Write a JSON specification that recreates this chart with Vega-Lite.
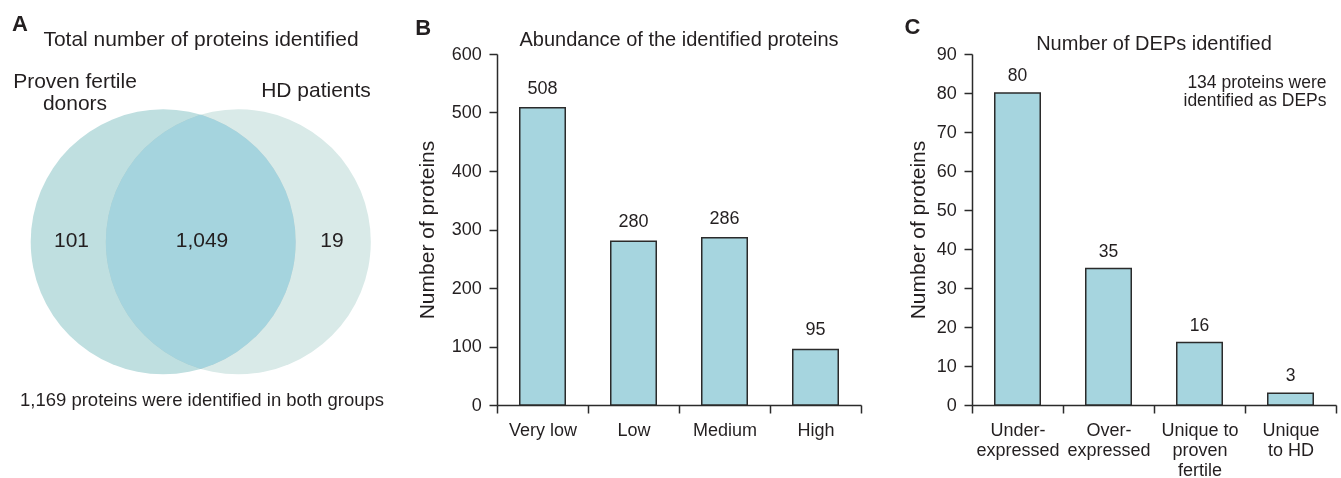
{
  "$schema": "https://vega.github.io/schema/vega-lite/v6.json",
  "padding": {"left": 5, "top": 13, "right": 5, "bottom": 0},
  "background": "white",
  "spacing": 28,
  "datasets": {
    "venn": [
      {"set": "Proven fertile donors", "cx": 158.2, "cy": 163.2},
      {"set": "HD patients", "cx": 233.3, "cy": 163.2}
    ],
    "vennLabels": [
      {"label": "Proven fertile\ndonors", "x": 70, "y": 323},
      {"label": "HD patients", "x": 311, "y": 314},
      {"label": "101", "x": 66.5, "y": 164},
      {"label": "1,049", "x": 197, "y": 164},
      {"label": "19", "x": 327, "y": 164}
    ],
    "vennNote": [
      {"label": "1,169 proteins were identified in both groups", "x": 197, "y": 5}
    ],
    "abundance": [
      {"category": "Very low", "count": 508},
      {"category": "Low", "count": 280},
      {"category": "Medium", "count": 286},
      {"category": "High", "count": 95}
    ],
    "deps": [
      {"category": "Under-\nexpressed", "count": 80},
      {"category": "Over-\nexpressed", "count": 35},
      {"category": "Unique to\nproven\nfertile", "count": 16},
      {"category": "Unique\nto HD", "count": 3, "note": "134 proteins were\nidentified as DEPs"}
    ]
  },
  "hconcat": [
    {
      "title": {"text": "A", "anchor": "start", "fontWeight": "bold", "fontSize": 22, "dx": 7, "offset": -7},
      "vconcat": [
        {
          "title": {"text": "Total number of proteins identified", "fontSize": 21, "offset": 4, "dx": 5},
          "width": 382,
          "height": 351,
          "layer": [
            {
              "data": {"name": "venn"},
              "transform": [{"filter": "datum.set === 'HD patients'"}],
              "mark": {"type": "point", "shape": "circle", "filled": true, "size": 70225, "color": "#d9eae8", "opacity": 1, "strokeWidth": 0},
              "encoding": {
                "x": {"field": "cx", "type": "quantitative", "scale": {"domain": [0, 382], "nice": false, "zero": false}, "axis": null},
                "y": {"field": "cy", "type": "quantitative", "scale": {"domain": [0, 351], "nice": false, "zero": false}, "axis": null}
              }
            },
            {
              "data": {"name": "venn"},
              "transform": [{"filter": "datum.set === 'Proven fertile donors'"}],
              "mark": {"type": "point", "shape": "circle", "filled": true, "size": 70225, "color": "#bfdfe0", "opacity": 1, "strokeWidth": 0, "blend": "multiply"},
              "encoding": {
                "x": {"field": "cx", "type": "quantitative"},
                "y": {"field": "cy", "type": "quantitative"}
              }
            },
            {
              "data": {"name": "venn"},
              "transform": [{"filter": "datum.set === 'HD patients'"}],
              "mark": {"type": "point", "shape": "circle", "filled": true, "size": 70225, "color": "#a5d4de", "opacity": 1, "strokeWidth": 0, "blend": "lighten"},
              "encoding": {
                "x": {"field": "cx", "type": "quantitative"},
                "y": {"field": "cy", "type": "quantitative"}
              }
            },
            {
              "data": {"name": "vennLabels"},
              "mark": {"type": "text", "fontSize": 21, "lineBreak": "\n", "lineHeight": 22, "baseline": "middle", "align": "center", "color": "#231f20"},
              "encoding": {
                "x": {"field": "x", "type": "quantitative"},
                "y": {"field": "y", "type": "quantitative"},
                "text": {"field": "label", "type": "nominal"}
              }
            },
            {
              "data": {"name": "vennNote"},
              "mark": {"type": "text", "fontSize": 18.5, "baseline": "middle", "align": "center", "color": "#231f20"},
              "encoding": {
                "x": {"field": "x", "type": "quantitative"},
                "y": {"field": "y", "type": "quantitative"},
                "text": {"field": "label", "type": "nominal"}
              }
            }
          ]
        }
      ]
    },
    {
      "spacing": 42,
      "hconcat": [
        {
          "title": {"text": "B", "anchor": "start", "fontWeight": "bold", "fontSize": 22, "dx": -1, "offset": -9.5},
          "vconcat": [
            {
              "title": {"text": "Abundance of the identified proteins", "fontSize": 20, "offset": -5},
              "width": 364,
              "height": 351,
              "data": {"name": "abundance"},
              "encoding": {
                "x": {"field": "category", "type": "nominal", "sort": null, "scale": {"paddingInner": 0, "paddingOuter": 0},
                      "axis": {"title": null, "labelAngle": 0, "tickBand": "extent", "labelPadding": 8.5}},
                "y": {"field": "count", "type": "quantitative", "scale": {"domain": [0, 600], "nice": false},
                      "axis": {"title": "Number of proteins", "values": [0, 100, 200, 300, 400, 500, 600], "titlePadding": 14, "labelPadding": 7.7}}
              },
              "layer": [
                {"mark": {"type": "bar", "width": {"band": 0.5}, "fill": "#a6d5df", "stroke": "#2b2b2b", "strokeWidth": 1.5}},
                {"mark": {"type": "text", "dy": -19, "baseline": "middle", "fontSize": 18, "color": "#231f20"},
                 "encoding": {"text": {"field": "count", "type": "quantitative"}}}
              ]
            }
          ]
        },
        {
          "title": {"text": "C", "anchor": "start", "fontWeight": "bold", "fontSize": 22, "dx": -3, "offset": -5},
          "vconcat": [
            {
              "title": {"text": "Number of DEPs identified", "fontSize": 20, "offset": -9.4},
              "width": 364,
              "height": 351,
              "data": {"name": "deps"},
              "encoding": {
                "x": {"field": "category", "type": "nominal", "sort": null, "scale": {"paddingInner": 0, "paddingOuter": 0},
                      "axis": {"title": null, "labelAngle": 0, "tickBand": "extent", "labelPadding": 8.5, "labelExpr": "split(datum.label, '\\n')", "labelLineHeight": 20}},
                "y": {"field": "count", "type": "quantitative", "scale": {"domain": [0, 90], "nice": false},
                      "axis": {"title": "Number of proteins", "values": [0, 10, 20, 30, 40, 50, 60, 70, 80, 90], "titlePadding": 7.8, "labelPadding": 7.7}}
              },
              "layer": [
                {"mark": {"type": "bar", "width": {"band": 0.5}, "fill": "#a6d5df", "stroke": "#2b2b2b", "strokeWidth": 1.5}},
                {"mark": {"type": "text", "dy": -17, "baseline": "middle", "fontSize": 17.5, "color": "#231f20"},
                 "encoding": {"text": {"field": "count", "type": "quantitative"}}},
                {"transform": [{"filter": "isValid(datum.note)"}],
                 "mark": {"type": "text", "align": "right", "baseline": "middle", "lineBreak": "\n", "lineHeight": 18.5, "fontSize": 17.5, "dx": 36, "color": "#231f20"},
                 "encoding": {
                   "y": {"datum": 82.6, "type": "quantitative"},
                   "text": {"field": "note", "type": "nominal"}
                 }}
              ]
            }
          ]
        }
      ]
    }
  ],
  "config": {
    "font": "Liberation Sans",
    "view": {"stroke": null},
    "axis": {
      "grid": false,
      "domainColor": "#2b2b2b",
      "domainWidth": 1.5,
      "tickColor": "#2b2b2b",
      "tickWidth": 1.5,
      "tickSize": 8,
      "labelFont": "Liberation Sans",
      "labelFontSize": 18,
      "labelColor": "#231f20",
      "titleFont": "Liberation Sans",
      "titleFontSize": 21,
      "titleFontWeight": "normal",
      "titleColor": "#231f20"
    },
    "title": {"font": "Liberation Sans", "fontWeight": "normal", "color": "#231f20"},
    "text": {"font": "Liberation Sans"}
  }
}
